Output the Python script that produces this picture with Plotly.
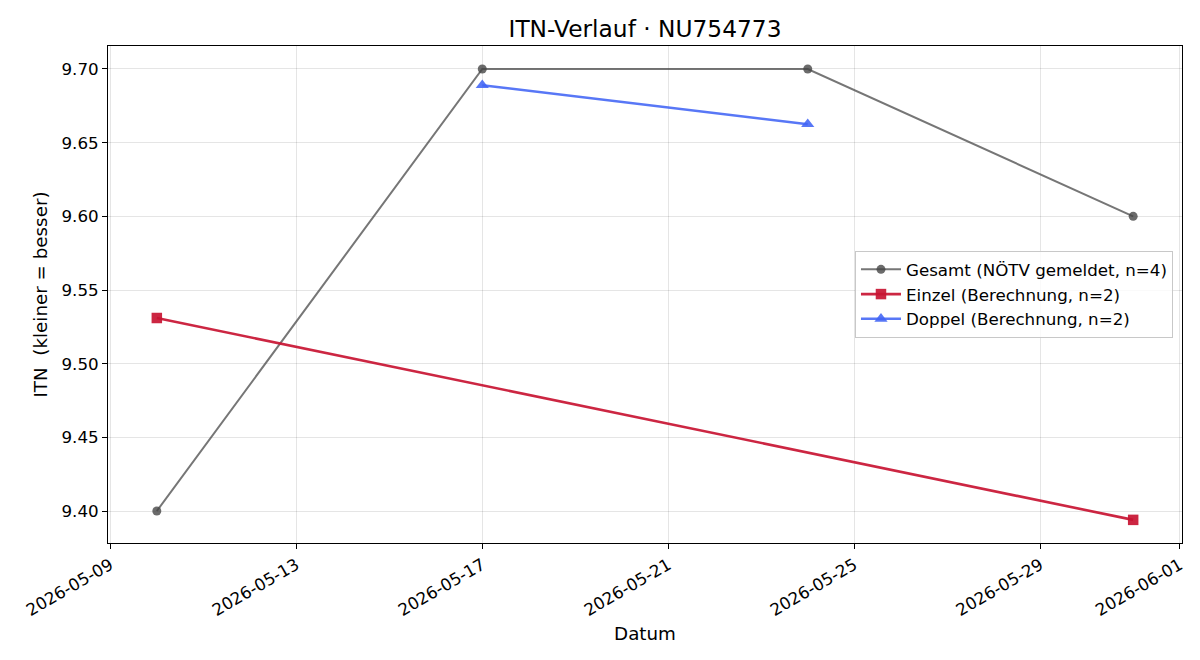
import plotly.graph_objects as go

gesamt_dates = ["2026-05-10", "2026-05-17", "2026-05-24", "2026-05-31"]
gesamt_vals = [9.40, 9.70, 9.70, 9.60]
einzel_dates = ["2026-05-10", "2026-05-31"]
einzel_vals = [9.531, 9.394]
doppel_dates = ["2026-05-17", "2026-05-24"]
doppel_vals = [9.689, 9.6625]
x_ticks = ["2026-05-09", "2026-05-13", "2026-05-17", "2026-05-21",
           "2026-05-25", "2026-05-29", "2026-06-01"]
y_ticks = [9.40, 9.45, 9.50, 9.55, 9.60, 9.65, 9.70]

FONT = "DejaVu Sans"
fig = go.Figure()
fig.add_trace(go.Scatter(
    x=gesamt_dates, y=gesamt_vals, mode="lines+markers",
    name="Gesamt (NÖTV gemeldet, n=4)",
    line=dict(color="rgba(80,80,80,0.78)", width=2),
    marker=dict(symbol="circle", size=9, color="rgba(70,70,70,0.8)"),
))
fig.add_trace(go.Scatter(
    x=einzel_dates, y=einzel_vals, mode="lines+markers",
    name="Einzel (Berechnung, n=2)",
    line=dict(color="rgba(200,20,50,0.92)", width=2.6),
    marker=dict(symbol="square", size=10.5, color="rgba(200,20,50,0.92)"),
))
fig.add_trace(go.Scatter(
    x=doppel_dates, y=doppel_vals, mode="lines+markers",
    name="Doppel (Berechnung, n=2)",
    line=dict(color="rgba(65,100,245,0.88)", width=2.6),
    marker=dict(symbol="triangle-up", size=11.5, color="rgba(65,100,245,0.88)"),
))

axis_common = dict(
    showline=True, linecolor="black", linewidth=1, mirror=True,
    ticks="outside", ticklen=5, tickcolor="black", tickwidth=1,
    showgrid=True, gridcolor="rgba(0,0,0,0.1)", gridwidth=1,
    zeroline=False, tickfont=dict(family=FONT, size=16.7, color="black"),
)
fig.update_layout(
    width=1200, height=660,
    paper_bgcolor="white", plot_bgcolor="white",
    margin=dict(l=108, r=18, t=46, b=117),
    font=dict(family=FONT, size=16.7, color="black"),
    title=dict(text="ITN-Verlauf · NU754773", xref="paper", x=0.5, xanchor="center",
               y=1 - 29 / 660, yanchor="middle",
               font=dict(family=FONT, size=23.3, color="black")),
    xaxis=dict(
        **axis_common, type="date",
        range=["2026-05-08 22:48", "2026-06-01 01:12"],
        tickvals=x_ticks, ticktext=x_ticks, tickangle=-30,
        title=dict(text="Datum", font=dict(family=FONT, size=18.3), standoff=8),
    ),
    yaxis=dict(
        **axis_common,
        range=[9.3783, 9.7156],
        tickvals=y_ticks, ticktext=[f"{v:.2f}" for v in y_ticks],
        title=dict(text="ITN  (kleiner = besser)", font=dict(family=FONT, size=18.3), standoff=9),
    ),
    legend=dict(
        x=0.9916, xanchor="right", y=0.5875, yanchor="top",
        bgcolor="rgba(255,255,255,0.8)", bordercolor="rgba(200,200,200,1)", borderwidth=1,
        font=dict(family=FONT, size=16.7, color="black"),
        tracegroupgap=0, itemwidth=40,
    ),
    showlegend=True,
)

fig.write_html("out.html")
